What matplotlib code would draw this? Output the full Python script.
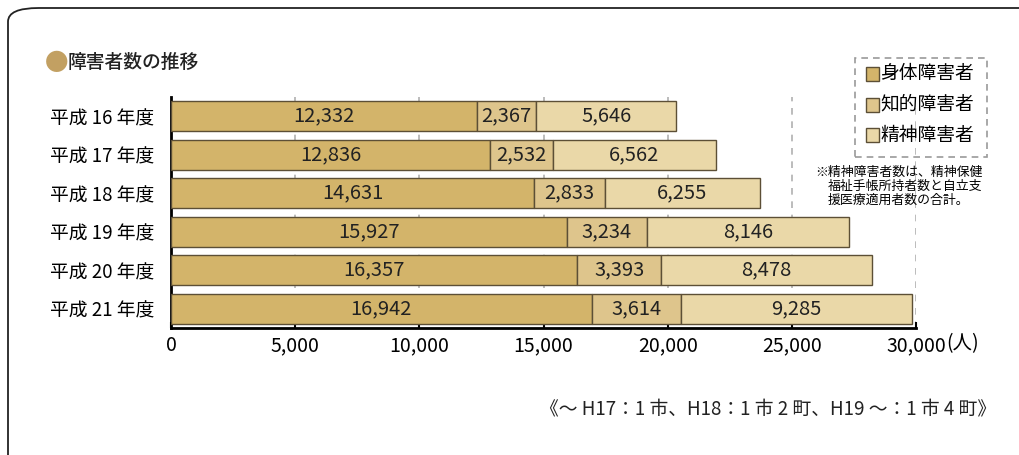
import matplotlib.pyplot as plt
from matplotlib.patches import FancyBboxPatch, Rectangle

plt.rcParams['font.family'] = ['Noto Sans CJK JP', 'DejaVu Sans']

# data
years = ['平成 16 年度', '平成 17 年度', '平成 18 年度', '平成 19 年度', '平成 20 年度', '平成 21 年度']
physical = [12332, 12836, 14631, 15927, 16357, 16942]
intellectual = [2367, 2532, 2833, 3234, 3393, 3614]
mental = [5646, 6562, 6255, 8146, 8478, 9285]
series_names = ['身体障害者', '知的障害者', '精神障害者']
colors = ['#D3B46A', '#DEC58C', '#EAD8A8']

W, H = 1020, 455
fig = plt.figure(figsize=(W / 100, H / 100), dpi=100)

def fx(px):
    return px / W

def fy(py):
    return 1 - py / H

# rounded frame (right side runs off the picture)
frame = FancyBboxPatch((fx(8), fy(470)), fx(1100), fy(8) - fy(470),
                       boxstyle='round,pad=0,rounding_size=0.03',
                       transform=fig.transFigure, fill=False,
                       edgecolor='#222222', lw=1.3, clip_on=False)
fig.patches.append(frame)

ax = fig.add_axes([fx(171), fy(328), fx(916) - fx(171), fy(97) - fy(328)])

ypos = list(range(len(years)))
left = [0] * len(years)
for vals, col in zip([physical, intellectual, mental], colors):
    bars = ax.barh(ypos, vals, left=left, height=0.78, color=col,
                   edgecolor='#5c4f36', linewidth=1.0, zorder=3)
    for b, v in zip(bars, vals):
        ax.text(b.get_x() + b.get_width() / 2, b.get_y() + b.get_height() / 2,
                f'{v:,}', ha='center', va='center', fontsize=14.5,
                color='#222222', zorder=4)
    left = [l + v for l, v in zip(left, vals)]

ax.set_ylim(len(years) - 0.5, -0.5)
ax.set_xlim(0, 30000)
ax.set_yticks(ypos)
ax.set_yticklabels(years, fontsize=13.5)
ax.set_xticks(range(0, 30001, 5000))
ax.set_xticklabels([f'{v:,}' for v in range(0, 30001, 5000)], fontsize=14)
ax.tick_params(axis='y', length=0, pad=12)
ax.tick_params(axis='x', direction='in', length=4, width=1.5, pad=5)
ax.xaxis.grid(True, color='#b0b0b0', linestyle=(0, (4, 4)), linewidth=1.2, zorder=0)
ax.set_axisbelow(True)
for s in ['top', 'right']:
    ax.spines[s].set_visible(False)
ax.spines['left'].set_linewidth(2)
ax.spines['bottom'].set_linewidth(2)
ax.patch.set_alpha(0)

fig.text(fx(946), fy(344), '(人)', fontsize=14, ha='left', va='center')

# title
fig.text(fx(45), fy(63), '●', color='#C2A062', fontsize=17, ha='left', va='center')
fig.text(fx(68), fy(62), '障害者数の推移', fontsize=13.5, ha='left', va='center',
         fontweight='medium', color='#222222')

# legend box
lx0, ly0, lx1, ly1 = 855, 58, 987, 157
fig.patches.append(Rectangle((fx(lx0), fy(ly1)), fx(lx1) - fx(lx0), fy(ly0) - fy(ly1),
                             transform=fig.transFigure, fill=False,
                             edgecolor='#9a9a9a', linestyle=(0, (4, 3)), lw=1.2))
for i, (name, col) in enumerate(zip(series_names, colors)):
    cy = 74 + i * 30.5
    fig.patches.append(Rectangle((fx(866), fy(cy + 7)), fx(13), fy(0) - fy(14),
                                 transform=fig.transFigure, facecolor=col,
                                 edgecolor='#5c4f36', lw=1.0))
    fig.text(fx(880), fy(cy), name, fontsize=13.5, ha='left', va='center')

note = ['※精神障害者数は、精神保健', '福祉手帳所持者数と自立支', '援医療適用者数の合計。']
fig.text(fx(815), fy(172), note[0], fontsize=9.3, ha='left', va='center')
fig.text(fx(828), fy(186), note[1], fontsize=9.3, ha='left', va='center')
fig.text(fx(828), fy(200), note[2], fontsize=9.3, ha='left', va='center')

fig.text(fx(996), fy(410), '《～ H17：1 市、H18：1 市 2 町、H19 ～：1 市 4 町》',
         fontsize=13.5, ha='right', va='center', color='#222222')

fig.savefig('out.png', dpi=100)
